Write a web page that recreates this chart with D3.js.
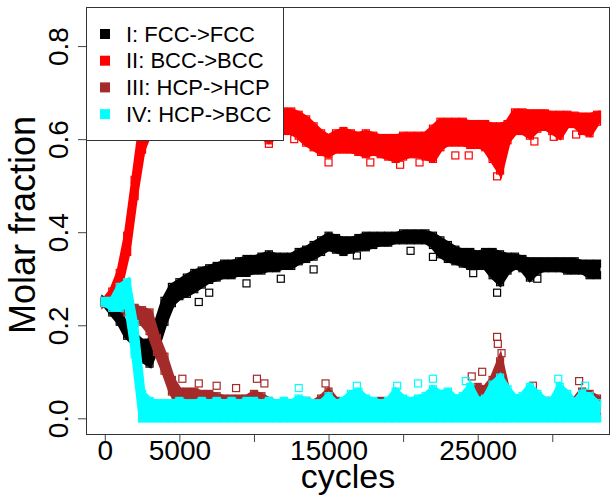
<!DOCTYPE html>
<html><head><meta charset="utf-8">
<script src="https://cdn.jsdelivr.net/npm/d3@7"></script>
<style>body{margin:0;background:#fff} svg{display:block} text{font-family:"Liberation Sans",Arial,Helvetica,sans-serif;fill:#000}</style>
</head><body><svg id="c" width="613" height="495"></svg>
<script>
// sample positions (cycles)
const cycles = [0,500,1000,1500,2000,2500,3000,3500,4000,4500,
 5000,5500,6000,6500,7000,7500,8000,8500,9000,9500,
 10000,10500,11000,11500,12000,12500,13000,13500,14000,14500,
 15000,15500,16000,16500,17000,17500,18000,18500,19000,19500,
 20000,20500,21000,21500,22000,22500,23000,23500,24000,24500,
 25000,25500,26000,26500,27000,27500,28000,28500,29000,29500,
 30000,30500,31000,31500,32000,32500,33000];

// I: FCC->FCC (upper / lower edge of the point cloud)
const fccHi = [.26,.25,.23,.20,.185,.17,.17,.21,.26,.29,
 .30,.31,.32,.325,.33,.335,.34,.34,.345,.35,
 .35,.355,.36,.355,.355,.355,.365,.37,.38,.39,
 .40,.395,.39,.39,.395,.40,.40,.40,.40,.40,
 .405,.405,.405,.405,.40,.39,.38,.37,.365,.365,
 .36,.365,.365,.36,.355,.355,.35,.345,.345,.345,
 .345,.345,.345,.345,.34,.34,.34];
const fccLo = [.24,.22,.20,.17,.155,.12,.11,.15,.20,.24,
 .255,.26,.27,.28,.29,.295,.30,.30,.305,.305,
 .31,.31,.315,.315,.32,.32,.33,.335,.34,.35,
 .36,.355,.35,.355,.36,.36,.365,.37,.37,.375,
 .375,.375,.375,.375,.365,.345,.335,.33,.325,.32,
 .32,.32,.30,.285,.31,.32,.315,.295,.31,.315,
 .315,.315,.31,.31,.31,.30,.30];

// II: BCC->BCC
const bccHi = [.26,.28,.32,.40,.52,.64,.66,.67,.67,.67,
 .67,.67,.67,.67,.67,.67,.67,.67,.67,.67,
 .67,.665,.66,.665,.667,.667,.66,.65,.635,.62,
 .61,.62,.625,.62,.615,.62,.615,.61,.61,.61,
 .615,.615,.615,.615,.63,.645,.645,.645,.645,.64,
 .64,.64,.635,.635,.64,.665,.665,.663,.663,.663,
 .66,.66,.66,.658,.656,.656,.66];
const bccLo = [.24,.25,.28,.35,.47,.57,.61,.61,.61,.61,
 .61,.61,.61,.61,.61,.61,.61,.61,.61,.61,
 .61,.60,.59,.60,.61,.61,.60,.585,.575,.565,
 .56,.57,.57,.57,.565,.56,.565,.56,.555,.55,
 .555,.56,.56,.555,.55,.575,.585,.585,.585,.58,
 .58,.575,.55,.525,.59,.61,.61,.60,.615,.62,
 .61,.60,.625,.625,.61,.605,.63];

// III: HCP->HCP
const hcpHi = [.26,.26,.25,.245,.245,.24,.235,.18,.14,.09,
 .065,.065,.065,.06,.06,.055,.05,.05,.05,.05,
 .06,.055,.045,.04,.04,.035,.035,.045,.04,.05,
 .065,.045,.04,.04,.04,.04,.04,.045,.04,.04,
 .045,.04,.035,.03,.035,.04,.04,.045,.05,.06,
 .075,.07,.09,.13,.06,.05,.05,.065,.055,.045,
 .045,.05,.05,.045,.065,.06,.05];
const hcpLo = [.24,.235,.23,.22,.21,.20,.18,.135,.095,.05,
 .02,0,-.005,-.005,-.005,-.005,-.005,-.005,-.005,-.005,
 -.005,-.005,-.005,-.005,-.005,-.005,-.005,-.005,-.005,-.005,
 -.005,-.005,-.005,-.005,-.005,-.005,-.005,-.005,-.005,-.005,
 -.005,-.005,-.005,-.005,-.005,-.005,-.005,-.005,-.005,-.005,
 -.005,-.005,-.005,-.005,-.005,-.005,-.005,-.005,-.005,-.005,
 -.005,-.005,-.005,-.005,-.005,-.005,-.005];

// IV: HCP->BCC
const hbHi = [.26,.26,.29,.30,.21,.06,.045,.04,.04,.04,
 .045,.04,.04,.045,.04,.045,.04,.045,.04,.045,
 .045,.04,.045,.04,.045,.04,.05,.045,.04,.04,
 .055,.04,.045,.06,.065,.05,.045,.04,.045,.065,
 .05,.045,.05,.055,.07,.06,.065,.05,.055,.075,
 .045,.05,.08,.095,.07,.05,.055,.075,.06,.045,
 .045,.075,.06,.04,.06,.055,.04];
const hbLo = [.24,.23,.23,.24,.13,-.008,-.008,-.008,-.008,-.008,
 -.008,-.008,-.008,-.008,-.008,-.008,-.008,-.008,-.008,-.008,
 -.008,-.008,-.008,-.008,-.008,-.008,-.008,-.008,-.008,-.008,
 -.008,-.008,-.008,-.008,-.008,-.008,-.008,-.008,-.008,-.008,
 -.008,-.008,-.008,-.008,-.008,-.008,-.008,-.008,-.008,-.008,
 -.008,-.008,-.008,-.008,-.008,-.008,-.008,-.008,-.008,-.008,
 -.008,-.008,-.008,-.008,-.008,-.008,-.008];

// scattered points outside the bands: [cycles, value]
const fccOut = [[6300,.25],[7000,.27],[9500,.29],[11800,.30],[14000,.32],[16900,.35],[20500,.36],[22000,.347],[24700,.312],[26300,.27],[29000,.30],[32800,.33]];
const bccOut = [[11000,.59],[12700,.60],[15000,.55],[17800,.55],[19800,.545],[21100,.55],[23500,.565],[24400,.565],[26300,.52],[28800,.595],[30100,.605],[31600,.61]];
const hcpOut = [[5200,.085],[6300,.075],[7500,.07],[8800,.065],[10200,.085],[10700,.075],[14800,.075],[24600,.09],[25300,.10],[26300,.175],[26350,.16],[26600,.14],[28700,.07],[31800,.08]];
const hbOut = [[13000,.065],[16900,.07],[19600,.07],[21000,.075],[22000,.085],[24200,.08],[30400,.085],[32200,.07]];

const seriesNames = ["I: FCC->FCC","II: BCC->BCC","III: HCP->HCP","IV: HCP->BCC"];
const seriesColors = ["#000000","#ff0000","#a52a2a","#00ffff"];

const xTicks = [0,5000,10000,15000,20000,25000,30000];
const xTickLabels = ["0","5000","","15000","","25000",""];
const yTicks = [0,0.2,0.4,0.6,0.8];
const yTickLabels = ["0.0","0.2","0.4","0.6","0.8"];

const svg = d3.select("#c");
const L=86, R=610, T=7, B=434;
const x = d3.scaleLinear().domain([-1260, 33870]).range([L, R]);
const y = d3.scaleLinear().domain([-0.0337, 0.884]).range([B, T]);

const bands = [
  {hi:fccHi, lo:fccLo, out:fccOut},
  {hi:bccHi, lo:bccLo, out:bccOut},
  {hi:hcpHi, lo:hcpLo, out:hcpOut},
  {hi:hbHi, lo:hbLo, out:hbOut}
];
const S = 7, H = S/2;
svg.append("clipPath").attr("id","clp").append("rect").attr("x",L).attr("y",T).attr("width",R-L).attr("height",B-T);
const plot = svg.append("g").attr("clip-path","url(#clp)");

bands.forEach((b, si) => {
  const col = seriesColors[si];
  const pts = cycles.map((c,i) => {
    let yt = y(b.hi[i]) + H, yb = y(b.lo[i]) - H;
    if (yt > yb) { const m = (yt+yb)/2; yt = m; yb = m; }
    return {x:x(c), yt, yb};
  });
  const g = plot.append("g");
  g.append("path").datum(pts)
    .attr("d", d3.area().x(d=>d.x).y0(d=>d.yb).y1(d=>d.yt))
    .attr("fill", col).attr("stroke", col).attr("stroke-width", S);
  g.selectAll("rect.t").data(pts).join("rect").attr("class","t")
    .attr("x", d=>d.x-H).attr("y", d=>d.yt-H).attr("width",S).attr("height",S)
    .attr("fill","none").attr("stroke",col).attr("stroke-width",1.2);
  g.selectAll("rect.b").data(pts).join("rect").attr("class","b")
    .attr("x", d=>d.x-H).attr("y", d=>d.yb-H).attr("width",S).attr("height",S)
    .attr("fill","none").attr("stroke",col).attr("stroke-width",1.2);
  g.selectAll("rect.o").data(b.out).join("rect").attr("class","o")
    .attr("x", d=>x(d[0])-H).attr("y", d=>y(d[1])-H).attr("width",S).attr("height",S)
    .attr("fill","none").attr("stroke",col).attr("stroke-width",1.2);
});

// axes
const xa = svg.append("g").attr("transform",`translate(0,${B})`)
  .call(d3.axisBottom(x).tickValues(xTicks).tickSize(8).tickFormat((d,i)=>xTickLabels[i]));
xa.select(".domain").remove();
xa.selectAll(".tick line").attr("stroke","#444");
xa.selectAll(".tick text").attr("y",26).attr("dy",0).attr("font-size",28)
  .style("font-family",'"Liberation Sans",Arial,sans-serif');

const ya = svg.append("g").attr("transform",`translate(${L},0)`)
  .call(d3.axisLeft(y).tickValues(yTicks).tickSize(8).tickFormat((d,i)=>yTickLabels[i]));
ya.select(".domain").remove();
ya.selectAll(".tick line").attr("stroke","#444");
ya.selectAll(".tick text").attr("x",0).attr("dy",0).attr("text-anchor","middle")
  .attr("transform","translate(-18,0) rotate(-90)").attr("font-size",28)
  .style("font-family",'"Liberation Sans",Arial,sans-serif');

svg.append("rect").attr("x",L+0.5).attr("y",T+0.5).attr("width",R-L-1).attr("height",B-T)
  .attr("fill","none").attr("stroke","#333");

svg.append("text").attr("x",(L+R)/2).attr("y",488).attr("text-anchor","middle").attr("font-size",34).text("cycles");
svg.append("text").attr("transform","translate(35,225) rotate(-90)").attr("text-anchor","middle").attr("font-size",36).text("Molar fraction");

// legend
const lg = svg.append("g");
lg.append("rect").attr("x",L+0.5).attr("y",T+0.5).attr("width",197).attr("height",133)
  .attr("fill","#fff").attr("stroke","#333");
seriesNames.forEach((n,i) => {
  const cy = 34 + i*26.7;
  lg.append("rect").attr("x",100).attr("y",cy-5).attr("width",10).attr("height",10).attr("fill",seriesColors[i]);
  lg.append("text").attr("x",126).attr("y",cy).attr("dominant-baseline","central").attr("font-size",22).text(n);
});
</script></body></html>
